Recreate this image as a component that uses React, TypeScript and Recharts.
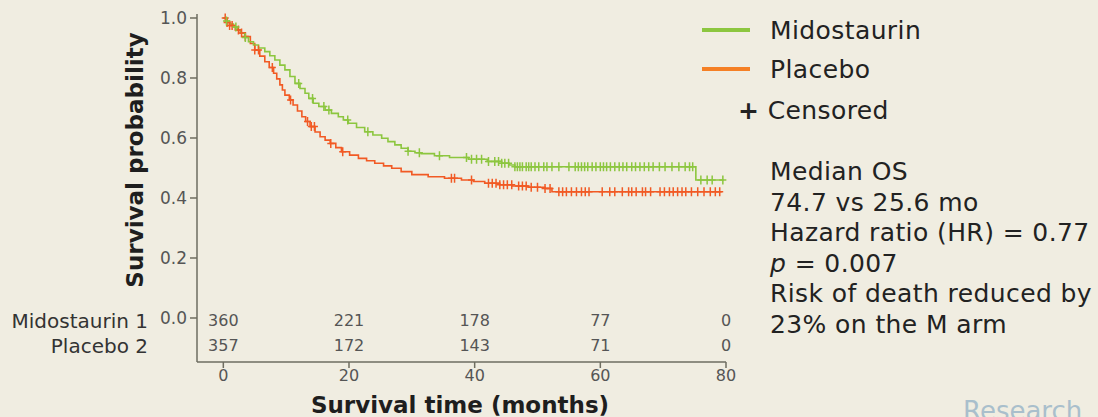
import React from "react";
import { ComposedChart, Line, Scatter, XAxis, YAxis } from "recharts";

const FONT = "'DejaVu Sans', Verdana, sans-serif";
const BG = "#f0ede1";
const GREEN = "#8cc63f";
const ORANGE = "#f15a24";
const AXIS = "#6e6d60";

// Kaplan-Meier steps: [time in months, survival]
const midoSteps: [number, number][] = [
  [0, 1.0], [0.5, 0.99], [1, 0.98], [1.6, 0.97], [2.2, 0.96], [2.8, 0.95], [3.4, 0.935],
  [4, 0.921], [4.8, 0.91], [5.6, 0.9], [6.6, 0.888], [7.4, 0.874], [8.2, 0.86], [9, 0.843],
  [9.8, 0.827], [10.6, 0.805], [11.4, 0.782], [12.2, 0.765], [13, 0.749], [13.6, 0.732],
  [14.3, 0.716], [15.2, 0.705], [16.2, 0.693], [17.2, 0.682], [18.3, 0.671], [19.1, 0.66],
  [19.9, 0.649], [21.2, 0.635], [22.5, 0.621], [23.8, 0.61], [25.2, 0.599], [26.2, 0.588],
  [27.3, 0.577], [28.3, 0.566], [29.4, 0.556], [30.5, 0.551], [31.5, 0.548], [33.6, 0.541],
  [36, 0.535], [39, 0.529], [42, 0.522], [44.3, 0.516], [45.5, 0.51], [46.4, 0.504],
  [75.2, 0.46], [79.6, 0.46],
];

const placeboSteps: [number, number][] = [
  [0, 1.0], [0.5, 0.985], [1, 0.975], [1.9, 0.96], [2.7, 0.95], [3.5, 0.938], [4.3, 0.915],
  [5, 0.893], [5.8, 0.873], [6.6, 0.854], [7.3, 0.835], [8, 0.816], [8.5, 0.797], [9, 0.777],
  [9.4, 0.76], [9.8, 0.743], [10.5, 0.727], [11.1, 0.71], [11.8, 0.69], [12.5, 0.671],
  [13.1, 0.655], [13.8, 0.638], [14.6, 0.62], [15.4, 0.604], [16.2, 0.593], [17, 0.582],
  [17.9, 0.568], [18.8, 0.554], [20.1, 0.543], [21.5, 0.532], [22.8, 0.524], [24.1, 0.516],
  [25.5, 0.507], [26.8, 0.499], [28.3, 0.488], [30, 0.478], [32.6, 0.471], [35.2, 0.466],
  [37.9, 0.46], [39.8, 0.455], [41.6, 0.449], [44, 0.444], [46, 0.44], [48.5, 0.436],
  [51.2, 0.432], [52.3, 0.421], [79.2, 0.418],
];

// censoring times (months)
const midoCensored = [
  0.5, 2, 3.5, 12, 14.2, 16, 16.8, 19.8, 23, 29.4, 31.2, 34.4, 38.7, 39.5, 40.3, 41.1,
  42.2, 43.2, 43.8, 44.3, 44.8, 45.4, 46.4, 46.8, 47.2, 47.6, 48.2, 48.6, 49, 49.6, 50.2,
  51, 51.5, 52.3, 53.4, 55, 56, 56.5, 57, 57.5, 58, 58.7, 59.3, 60, 60.5, 61, 61.6, 62.3,
  63, 63.6, 64.2, 65, 65.6, 66.3, 67, 67.7, 68.4, 69.4, 70.3, 71.4, 72.5, 73.5, 74.2,
  74.7, 76, 77, 77.8, 79.5,
];

const placeboCensored = [
  0.3, 0.6, 1, 1.4, 2.4, 2.9, 3.5, 5, 5.6, 7.8, 10.7, 13.4, 14, 14.5, 17.1, 19, 36.3,
  36.8, 39.5, 42.2, 42.8, 43.4, 44, 44.6, 45.2, 45.9, 47, 47.6, 48.2, 49, 50, 51.2, 52,
  53.4, 54, 54.6, 55.4, 56.2, 57, 57.6, 58.2, 60.3, 61.5, 62.3, 63.5, 64.5, 65, 65.7,
  66.7, 67.2, 68, 69.5, 70.2, 71, 71.6, 72.3, 73, 73.6, 74.5, 75.5, 76.5, 77.5, 78.3, 79,
];

// numbers at risk
const riskTimes = [0, 20, 40, 60, 80];
const midoAtRisk = [360, 221, 178, 77, 0];
const placeboAtRisk = [357, 172, 143, 71, 0];

const xTicks = [0, 20, 40, 60, 80];
const yTicks = [0, 0.2, 0.4, 0.6, 0.8, 1.0];

const notes = [
  "Median OS",
  "74.7 vs 25.6 mo",
  "Hazard ratio (HR) = 0.77",
  "p = 0.007",
  "Risk of death reduced by",
  "23% on the M arm",
];

const toRows = (steps: [number, number][]) => steps.map(([t, s]) => ({ t, s }));

const survivalAt = (steps: [number, number][], t: number) => {
  let s = steps[0][1];
  for (const [st, sv] of steps) if (st <= t) s = sv;
  return s;
};

const censorRows = (steps: [number, number][], times: number[]) =>
  times.map((t) => ({ t, s: survivalAt(steps, t) }));

const riskRows = (values: number[], rowY: number) =>
  values.map((n, i) => ({ t: riskTimes[i], s: rowY, n }));

const plus = (color: string) => (props: any) => {
  const { cx, cy } = props;
  if (cx == null || cy == null) return <g />;
  return (
    <path
      d={`M${cx - 3.5},${cy} h7 M${cx},${cy - 4.5} v9`}
      stroke={color}
      strokeWidth={1.5}
      fill="none"
    />
  );
};

const riskText = (props: any) => {
  const { cx, cy, payload } = props;
  return (
    <text
      x={cx}
      y={cy}
      textAnchor="middle"
      dominantBaseline="central"
      fill="#555"
      fontSize={16}
      fontFamily={FONT}
    >
      {payload.n}
    </text>
  );
};

const textStyle = { fontSize: 25, color: "#222", letterSpacing: 0.4, lineHeight: "30.6px" };

export default function App() {
  return (
    <div
      style={{
        position: "absolute",
        left: 0,
        top: 0,
        width: 1098,
        height: 417,
        background: BG,
        overflow: "hidden",
        fontFamily: FONT,
      }}
    >
      <ComposedChart
        width={1098}
        height={417}
        margin={{ top: 14, right: 372, bottom: 0, left: 0 }}
      >
        <XAxis
          type="number"
          dataKey="t"
          domain={[-4.19, 80]}
          ticks={xTicks}
          height={55}
          stroke={AXIS}
          strokeWidth={1.5}
          tickSize={6}
          tick={{ fill: "#555", fontSize: 16, fontFamily: FONT }}
        />
        <YAxis
          type="number"
          dataKey="s"
          domain={[-0.1467, 1.0133]}
          ticks={yTicks}
          width={197}
          stroke={AXIS}
          strokeWidth={1.5}
          tickSize={7}
          tickMargin={3}
          tickFormatter={(v: number) => v.toFixed(1)}
          tick={{ fill: "#555", fontSize: 17, fontFamily: FONT }}
        />
        <Line
          data={toRows(placeboSteps)}
          dataKey="s"
          type="stepAfter"
          stroke={ORANGE}
          strokeWidth={1.6}
          dot={false}
          isAnimationActive={false}
        />
        <Line
          data={toRows(midoSteps)}
          dataKey="s"
          type="stepAfter"
          stroke={GREEN}
          strokeWidth={1.6}
          dot={false}
          isAnimationActive={false}
        />
        <Scatter
          data={censorRows(placeboSteps, placeboCensored)}
          dataKey="s"
          shape={plus(ORANGE)}
          isAnimationActive={false}
        />
        <Scatter
          data={censorRows(midoSteps, midoCensored)}
          dataKey="s"
          shape={plus(GREEN)}
          isAnimationActive={false}
        />
        <Scatter
          data={riskRows(midoAtRisk, -0.01)}
          dataKey="s"
          shape={riskText}
          isAnimationActive={false}
        />
        <Scatter
          data={riskRows(placeboAtRisk, -0.093)}
          dataKey="s"
          shape={riskText}
          isAnimationActive={false}
        />
      </ComposedChart>

      {/* axis titles and at-risk row labels */}
      <svg
        width={1098}
        height={417}
        style={{ position: "absolute", left: 0, top: 0, pointerEvents: "none" }}
      >
        <text
          x={0}
          y={0}
          transform="translate(143,160) rotate(-90)"
          textAnchor="middle"
          fontSize={23}
          fontWeight="bold"
          fill="#1e1e1e"
          fontFamily={FONT}
        >
          Survival probability
        </text>
        <text
          x={460}
          y={413}
          textAnchor="middle"
          fontSize={23}
          fontWeight="bold"
          fill="#1e1e1e"
          fontFamily={FONT}
        >
          Survival time (months)
        </text>
        <text x={148} y={321} textAnchor="end" dominantBaseline="central" fontSize={20} fill="#333" fontFamily={FONT}>
          Midostaurin 1
        </text>
        <text x={148} y={346} textAnchor="end" dominantBaseline="central" fontSize={20} fill="#333" fontFamily={FONT}>
          Placebo 2
        </text>
      </svg>

      {/* legend */}
      <div style={{ position: "absolute", left: 702, top: 28, width: 48, height: 4, background: GREEN }} />
      <div style={{ ...textStyle, position: "absolute", left: 770, top: 16 }}>Midostaurin</div>
      <div style={{ position: "absolute", left: 702, top: 67, width: 48, height: 4, background: "#f58025" }} />
      <div style={{ ...textStyle, position: "absolute", left: 770, top: 55 }}>Placebo</div>
      <div style={{ ...textStyle, position: "absolute", left: 738, top: 96 }}>
        <b>+</b> Censored
      </div>

      {/* annotation */}
      <div style={{ ...textStyle, position: "absolute", left: 770, top: 157 }}>
        {notes.map((line, i) =>
          line.startsWith("p =") ? (
            <div key={i}>
              <i>p</i>
              {line.slice(1)}
            </div>
          ) : (
            <div key={i}>{line}</div>
          )
        )}
      </div>

      <div style={{ position: "absolute", left: 963, top: 396, fontSize: 26, color: "#a9bfcc", lineHeight: "30px" }}>
        Research
      </div>
    </div>
  );
}
